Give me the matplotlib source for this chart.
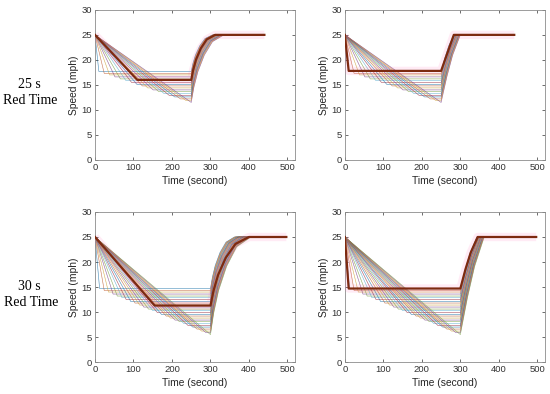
import numpy as np
import matplotlib.pyplot as plt

# MATLAB default line colours, cycled over the thin trajectories
COLORS = ['#0072BD', '#D95319', '#EDB120', '#7E2F8E', '#77AC30', '#4DBEEE', '#A2142F']

# ---- 25 s red time (top row) ----
TOP_STOP_T = [10, 24, 38, 52, 66, 80, 95, 109, 123, 137, 151, 165, 179, 193, 207, 222, 236, 250]
TOP_STOP_V = [17.7, 17.3, 17.0, 16.6, 16.2, 15.9, 15.5, 15.1, 14.8, 14.4, 14.0, 13.7, 13.3, 12.9,
              12.6, 12.2, 11.9, 11.5]
TL_UP_T = [305, 307, 308, 310, 312, 313, 315, 317, 319, 320, 322, 324, 326, 327, 329, 331, 333, 335]
TR_UP_T = [283, 284, 285, 286, 287, 288, 289, 290, 291, 292, 293, 294, 295, 296, 297, 298, 299, 300]
TOP_RED_END = 250
TOP_END = 440

TL_THICK_T = [0, 110, 250, 312, 440]
TL_THICK_V = [25, 16.0, 16.0, 25, 25]
TR_THICK_T = [0, 10, 250, 283, 440]
TR_THICK_V = [25, 17.8, 17.8, 25, 25]

# ---- 30 s red time (bottom row) ----
BOT_STOP_T = [12, 24, 35, 47, 58, 70, 81, 93, 104, 116, 127, 139, 150, 162, 173, 185, 196, 208,
              219, 231, 242, 254, 265, 277, 288, 300]
BOT_STOP_V = [14.7, 14.3, 14.0, 13.6, 13.2, 12.9, 12.5, 12.1, 11.8, 11.4, 11.0, 10.6, 10.3, 9.9,
              9.5, 9.2, 8.8, 8.4, 8.1, 7.7, 7.3, 7.0, 6.6, 6.2, 5.9, 5.5]
BL_UP_T = [362, 364, 365, 367, 369, 371, 372, 374, 376, 377, 379, 381, 383, 384, 386, 388, 389,
           391, 393, 395, 396, 398, 400, 402, 403, 405]
BR_UP_T = [343, 344, 345, 345, 346, 347, 348, 348, 349, 350, 351, 351, 352, 353, 354, 354, 355,
           356, 357, 357, 358, 359, 360, 360, 361, 362]
BOT_RED_END = 300
BOT_END = 497

BL_THICK_T = [0, 155, 300, 400, 497]
BL_THICK_V = [25, 11.3, 11.3, 25, 25]
BR_THICK_T = [0, 10, 300, 345, 497]
BR_THICK_V = [25, 14.7, 14.7, 25, 25]

# acceleration shapes (fraction of time vs fraction of speed gain)
CURVED_T = [0, 0.08, 0.2, 0.4, 0.65, 1.0]
CURVED_V = [0, 0.22, 0.45, 0.7, 0.9, 1.0]
SOFT_T = [0, 0.3, 0.6, 1.0]
SOFT_V = [0, 0.38, 0.7, 1.0]
STRAIGHT_T = [0, 1.0]
STRAIGHT_V = [0, 1.0]

ROW_TEXT = [('25 s', 'Red Time'), ('30 s', 'Red Time')]


def trajectory(stop_t, v, red_end, up_t, end_t, prof_t, prof_v):
    t = [0, stop_t, red_end] + [red_end + f * (up_t - red_end) for f in prof_t[1:]] + [end_t]
    s = [25, v, v] + [v + f * (25 - v) for f in prof_v[1:]] + [25]
    return t, s


def thick_line(ax, tt, vv, prof_t, prof_v):
    t = tt[:3] + [tt[2] + f * (tt[3] - tt[2]) for f in prof_t[1:]] + [tt[4]]
    s = vv[:3] + [vv[2] + f * (vv[3] - vv[2]) for f in prof_v[1:]] + [vv[4]]
    ax.plot(t, s, color='#ff5fb0', lw=6, alpha=0.12, solid_capstyle='butt', zorder=3)
    ax.plot(t, s, color='#7d2a10', lw=1.6, zorder=4)


def panel(ax, stop_t, stop_v, up_t, red_end, end_t, prof_t, prof_v):
    for i in range(len(stop_t)):
        t, s = trajectory(stop_t[i], stop_v[i], red_end, up_t[i], end_t, prof_t, prof_v)
        ax.plot(t, s, color=COLORS[i % len(COLORS)], lw=0.45, alpha=0.55, zorder=2)
        # faint dark underlay gives the greyish look of the dense bundles
        ax.plot(t, s, color='#555555', lw=0.3, alpha=0.35, zorder=1)
    ax.set_xlim(0, 520)
    ax.set_ylim(0, 30)
    ax.set_xticks([0, 100, 200, 300, 400, 500])
    ax.set_yticks([0, 5, 10, 15, 20, 25, 30])
    ax.tick_params(direction='in', top=True, right=True, length=2.5, width=0.5,
                   labelsize=6.8, colors='#333333', pad=2)
    for sp in ax.spines.values():
        sp.set_color('#8c8c8c')
        sp.set_linewidth(0.6)
    ax.set_xlabel('Time (second)', fontsize=7.4, color='#262626', labelpad=3)
    ax.set_ylabel('Speed (mph)', fontsize=7.4, color='#262626', labelpad=2)


plt.rcParams['font.family'] = ['Liberation Sans', 'DejaVu Sans']
fig = plt.figure(figsize=(5.5, 3.94), dpi=100)

ax_tl = fig.add_axes([0.1727, 0.594, 0.364, 0.381])
ax_tr = fig.add_axes([0.627, 0.594, 0.364, 0.381])
ax_bl = fig.add_axes([0.1727, 0.081, 0.364, 0.381])
ax_br = fig.add_axes([0.627, 0.081, 0.364, 0.381])

panel(ax_tl, TOP_STOP_T, TOP_STOP_V, TL_UP_T, TOP_RED_END, TOP_END, CURVED_T, CURVED_V)
thick_line(ax_tl, TL_THICK_T, TL_THICK_V, CURVED_T, CURVED_V)

panel(ax_tr, TOP_STOP_T, TOP_STOP_V, TR_UP_T, TOP_RED_END, TOP_END, SOFT_T, SOFT_V)
thick_line(ax_tr, TR_THICK_T, TR_THICK_V, STRAIGHT_T, STRAIGHT_V)

panel(ax_bl, BOT_STOP_T, BOT_STOP_V, BL_UP_T, BOT_RED_END, BOT_END, CURVED_T, CURVED_V)
thick_line(ax_bl, BL_THICK_T, BL_THICK_V, CURVED_T, CURVED_V)

panel(ax_br, BOT_STOP_T, BOT_STOP_V, BR_UP_T, BOT_RED_END, BOT_END, SOFT_T, SOFT_V)
thick_line(ax_br, BR_THICK_T, BR_THICK_V, SOFT_T, SOFT_V)

# row captions on the left
fig.text(29 / 550, 1 - 85 / 394, ROW_TEXT[0][0], ha='center', va='center',
         family='Liberation Serif', fontsize=10)
fig.text(30 / 550, 1 - 101 / 394, ROW_TEXT[0][1], ha='center', va='center',
         family='Liberation Serif', fontsize=10)
fig.text(29 / 550, 1 - 286 / 394, ROW_TEXT[1][0], ha='center', va='center',
         family='Liberation Serif', fontsize=10)
fig.text(31 / 550, 1 - 302 / 394, ROW_TEXT[1][1], ha='center', va='center',
         family='Liberation Serif', fontsize=10)

fig.savefig('out.png', dpi=100)
